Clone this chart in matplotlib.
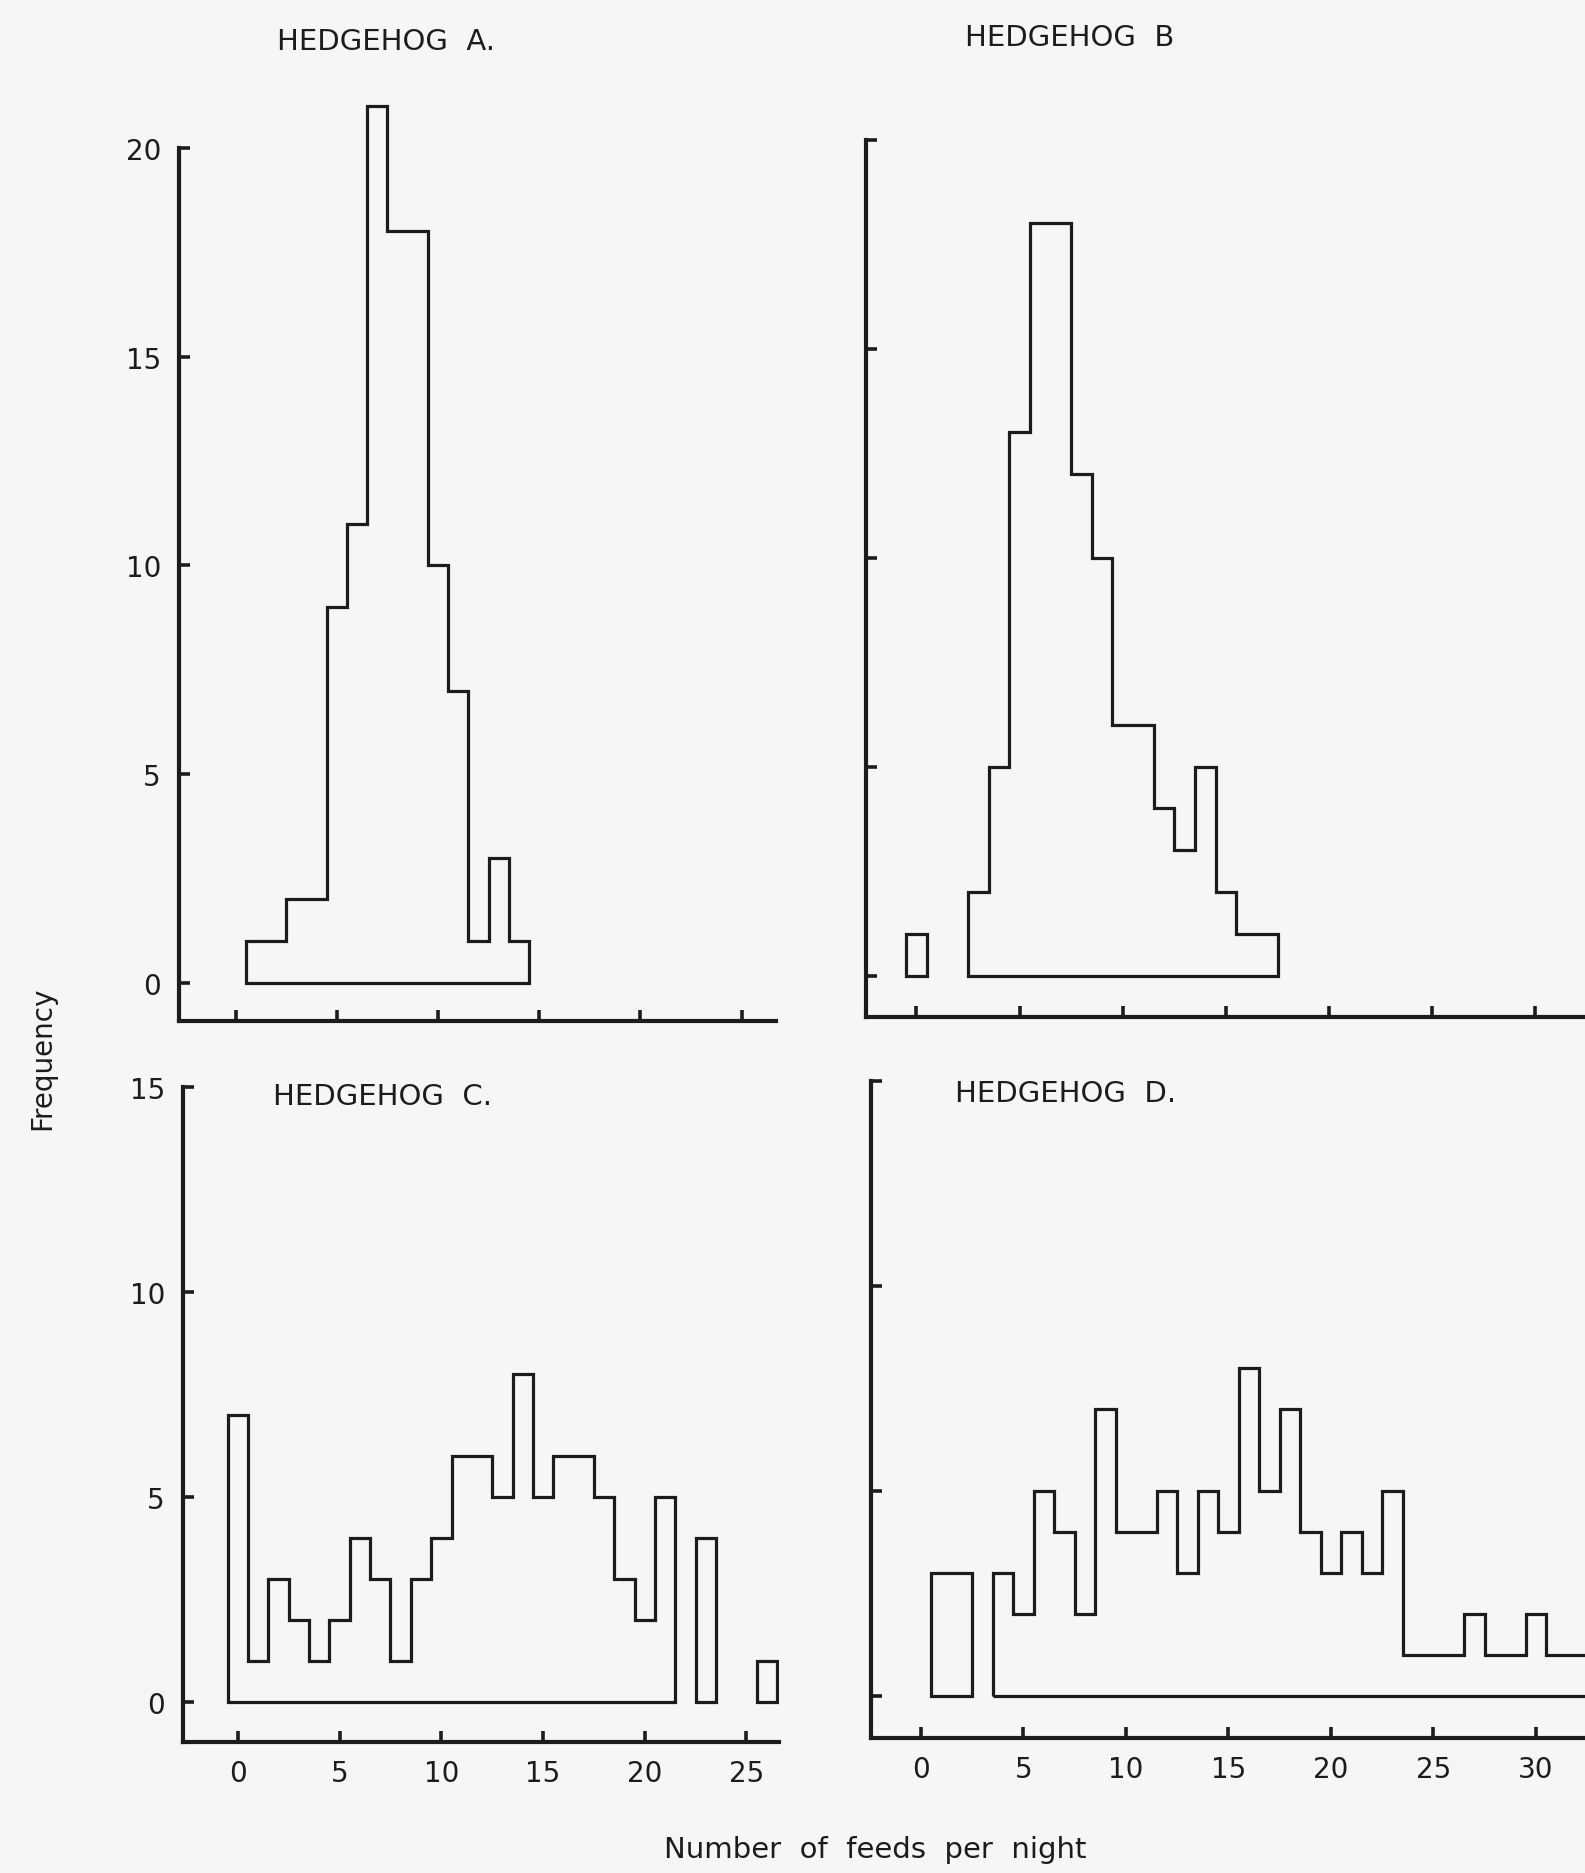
import matplotlib
matplotlib.use('Agg')
import matplotlib.pyplot as plt
from matplotlib.patches import Polygon

# feeds per night (bin centres) and how many nights had that count
feeds_a = list(range(0, 15))
counts_a = [0, 1, 1, 2, 2, 9, 11, 21, 18, 18, 10, 7, 1, 3, 1]

feeds_b = list(range(0, 18))
counts_b = [1, 0, 0, 2, 5, 13, 18, 18, 12, 10, 6, 6, 4, 3, 5, 2, 1, 1]

feeds_c = list(range(0, 27))
counts_c = [7, 1, 3, 2, 1, 2, 4, 3, 1, 3, 4, 6, 6, 5, 8, 5, 6, 6, 5, 3, 2, 5,
            0, 4, 0, 0, 1]

feeds_d = list(range(0, 34))
counts_d = [0, 3, 3, 0, 3, 2, 5, 4, 2, 7, 4, 4, 5, 3, 5, 4, 8, 5, 7, 4, 3, 4,
            3, 5, 1, 1, 1, 2, 1, 1, 2, 1, 1, 1]

titles = ['HEDGEHOG  A.', 'HEDGEHOG  B', 'HEDGEHOG  C.', 'HEDGEHOG  D.']
xticks_ac = [0, 5, 10, 15, 20, 25]
xticks_bd = [0, 5, 10, 15, 20, 25, 30]
yticks_top = [0, 5, 10, 15, 20]
yticks_bot = [0, 5, 10, 15]

ink = '#1c1c1c'
paper = '#f6f6f4'
W, H = 1585, 1874

plt.rcParams['font.family'] = ['DejaVu Sans']
fig = plt.figure(figsize=(W / 100, H / 100), dpi=100, facecolor=paper)


def rect(left, right, bottom, top):
    # pixel box -> figure fraction
    return [left / W, 1 - bottom / H, (right - left) / W, (bottom - top) / H]


def outline(ax, feeds, counts):
    # each run of non-empty bins is drawn as one closed step outline
    run = []
    for f, c in zip(feeds + [None], counts + [0]):
        if c > 0:
            run.append((f, c))
        elif run:
            pts = [(run[0][0] - 0.5, 0)]
            for x, h in run:
                pts += [(x - 0.5, h), (x + 0.5, h)]
            pts.append((run[-1][0] + 0.5, 0))
            ax.add_patch(Polygon(pts, closed=True, fill=False, ec=ink,
                                 lw=2.3, joinstyle='miter'))
            run = []


def setup(ax, xlim, ylim, ytop, xticks, yticks, xlab, ylab):
    ax.set_facecolor('none')
    ax.set_xlim(*xlim)
    ax.set_ylim(*ylim)
    for s in ['top', 'right']:
        ax.spines[s].set_visible(False)
    for s in ['left', 'bottom']:
        ax.spines[s].set_linewidth(3.0)
        ax.spines[s].set_color(ink)
    ax.spines['left'].set_bounds(ylim[0], ytop)
    ax.set_xticks(xticks)
    ax.set_yticks(yticks)
    ax.tick_params(direction='in', length=8, width=2.6, color=ink,
                   labelsize=20, labelcolor=ink)
    ax.tick_params(axis='y', pad=13)
    ax.tick_params(axis='x', pad=12)
    if not xlab:
        ax.set_xticklabels([])
    if not ylab:
        ax.set_yticklabels([])


ax_a = fig.add_axes(rect(179, 776, 1022, 82))
setup(ax_a, (-2.8, 26.7), (-0.91, 21.6), 20, xticks_ac, yticks_top, False, True)
outline(ax_a, feeds_a, counts_a)

ax_b = fig.add_axes(rect(866, 1585, 1018, 74))
setup(ax_b, (-2.44, 32.4), (-0.99, 21.6), 20, xticks_bd, yticks_top, False, False)
outline(ax_b, feeds_b, counts_b)

ax_c = fig.add_axes(rect(183, 779, 1743, 1067))
setup(ax_c, (-2.7, 26.6), (-0.97, 15.5), 15, xticks_ac, yticks_bot, True, True)
outline(ax_c, feeds_c, counts_c)

ax_d = fig.add_axes(rect(871, 1585, 1739, 1062))
setup(ax_d, (-2.44, 32.4), (-1.02, 15.5), 15, xticks_bd, yticks_bot, True, False)
outline(ax_d, feeds_d, counts_d)

# panel titles
fig.text(386 / W, 1 - 42 / H, titles[0], ha='center', va='center', fontsize=21, color=ink)
fig.text(1070 / W, 1 - 38 / H, titles[1], ha='center', va='center', fontsize=21, color=ink)
fig.text(273 / W, 1 - 1097 / H, titles[2], ha='left', va='center', fontsize=21, color=ink)
fig.text(955 / W, 1 - 1094 / H, titles[3], ha='left', va='center', fontsize=21, color=ink)

fig.text(42 / W, 1 - 1058 / H, 'Frequency', rotation=90, ha='center', va='center',
         fontsize=20, color=ink)
fig.text(875 / W, 1 - 1850 / H, 'Number  of  feeds  per  night', ha='center', va='center',
         fontsize=21, color=ink)

fig.savefig('out.png', dpi=100, facecolor=paper)
